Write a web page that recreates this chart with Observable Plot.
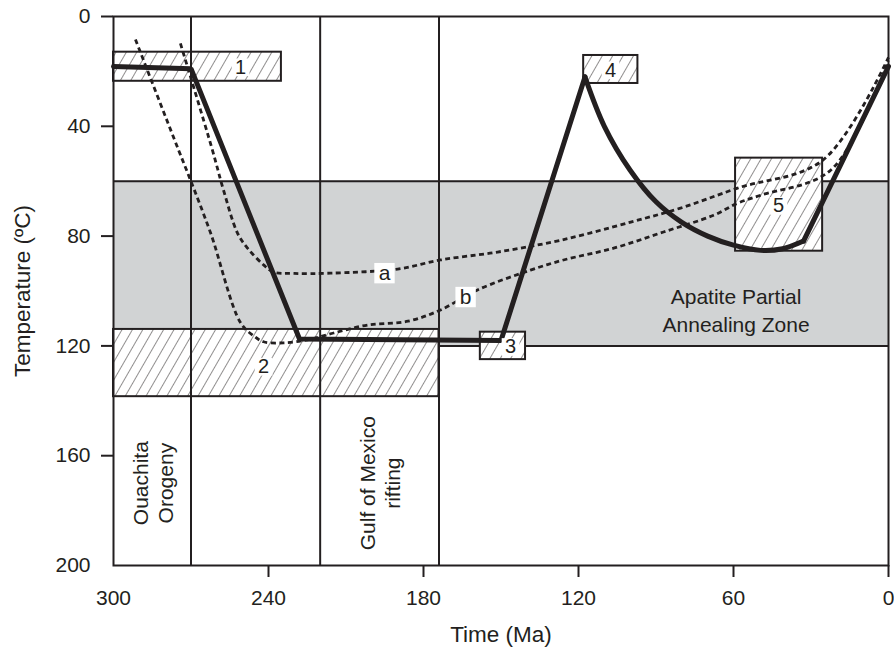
<!DOCTYPE html>
<html>
<head>
<meta charset="utf-8">
<script src="https://cdn.jsdelivr.net/npm/d3@7"></script>
<script src="https://cdn.jsdelivr.net/npm/@observablehq/plot@0.6"></script>
<style>
  body { margin: 0; background: #fff; }
  svg { display: block; }
</style>
</head>
<body>
<div id="chart"></div>
<script>
// ---------- data ----------
const xTicks = [300, 240, 180, 120, 60, 0];
const yTicks = [0, 40, 80, 120, 160, 200];

// Apatite partial annealing zone
const apazTop = 60, apazBottom = 120;
const apazText = "Apatite Partial\nAnnealing Zone";
const apazTextTime = 59, apazTextTemp = 106.5;

// constraint boxes
const boxNames = ["1", "2", "3", "4", "5"];
const boxStart = [300, 300, 158, 118, 59.2];
const boxEnd = [235, 174, 140.5, 97, 25.5];
const boxTempTop = [13, 114, 115, 14.2, 51.6];
const boxTempBottom = [23.6, 138.5, 125, 24.4, 85.5];
const boxLabelTime = [250.8, 241.9, 146.3, 107.6, 42.6];
const boxLabelTemp = [18.5, 127.6, 120.4, 19.6, 69];

// geologic events
const eventTimes = [270, 220, 174];
const eventLabels = ["Ouachita\nOrogeny", "Gulf of Mexico\nrifting"];
const eventLabelTime = [285, 197];
const eventLabelTemp = [170, 170];

// best-fit thermal path (solid)
const pathTime = [300, 270, 228, 150, 117.5];
const pathTemp = [18.2, 19, 117.5, 118, 22];
const coolTime = [117.5, 110, 100, 90, 80, 70, 60, 49.5, 41, 32.9];
const coolTemp = [22, 40, 56, 67.5, 75, 80, 83.3, 85.2, 84.6, 81.8];
const finalTime = [32.9, 0];
const finalTemp = [81.8, 18.2];

// alternative paths (dotted)
const aTime = [274.1, 261.7, 257.4, 252.0, 248.1, 241.9, 238.1, 230, 216.0, 190.0, 173.4, 151.3, 126.9, 99.8, 80.5, 58.4, 25.5, 0];
const aTemp = [9.8, 48.7, 63.3, 78.9, 84.4, 90.5, 93.1, 93.6, 93.5, 92.0, 88.7, 85.8, 81.5, 74.9, 69.8, 62.5, 52.4, 14.9];
const bTime = [291.5, 274.8, 270.2, 262.4, 250.8, 245.5, 241.9, 234.2, 224.9, 214.8, 201.7, 186, 173.4, 159.1, 138.6, 125.8, 106.4, 87.1, 67.7, 58.4, 49.5, 22.4, 0];
const bTemp = [8.4, 48.7, 59.6, 78.9, 111.6, 116.5, 118.5, 118.9, 117.8, 115.3, 112.4, 111, 106.9, 99.6, 92.4, 88.7, 84.4, 78.5, 72.4, 68.0, 65.1, 56.0, 16.0];
const pathLabels = ["a", "b"];
const pathLabelTime = [195.1, 163.7];
const pathLabelTemp = [93.5, 102.2];

// ---------- build tables ----------
const INK = "#231f20";
const GREY = "#d1d3d4";
const FONT = "'Liberation Sans', Arial, Helvetica, sans-serif";

const boxes = boxNames.map((n, i) => ({n, t0: boxStart[i], t1: boxEnd[i], y0: boxTempTop[i], y1: boxTempBottom[i], lt: boxLabelTime[i], ly: boxLabelTemp[i]}));
const events = eventLabels.map((s, i) => ({s, t: eventLabelTime[i], y: eventLabelTemp[i]}));
const toPts = (ts, ys) => ts.map((t, i) => ({t, y: ys[i]}));
const solidA = toPts(pathTime, pathTemp);
const solidB = toPts(coolTime, coolTemp);
const solidC = toPts(finalTime, finalTemp);
const lineA = toPts(aTime, aTemp);
const lineB = toPts(bTime, bTemp);
const pLabels = pathLabels.map((s, i) => ({s, t: pathLabelTime[i], y: pathLabelTemp[i]}));

const dotted = {x: "t", y: "y", stroke: INK, strokeWidth: 2.8, strokeDasharray: "5,3.5", strokeLinecap: "butt", curve: "catmull-rom"};

const chart = Plot.plot({
  width: 894,
  height: 656,
  marginLeft: 113,
  marginRight: 6,
  marginTop: 16,
  marginBottom: 91,
  style: {fontFamily: FONT, color: INK, background: "white"},
  x: {domain: [300, 0], label: null},
  y: {domain: [0, 200], reverse: true, label: null},
  marks: [
    // APAZ band
    Plot.rect([{t0: 300, t1: 0, y0: apazTop, y1: apazBottom}], {x1: "t0", x2: "t1", y1: "y0", y2: "y1", fill: GREY}),
    Plot.ruleY([apazTop, apazBottom], {stroke: INK, strokeWidth: 2}),
    // constraint boxes
    Plot.rect(boxes, {x1: "t0", x2: "t1", y1: "y0", y2: "y1", fill: "url(#hatch)", stroke: INK, strokeWidth: 2}),
    // event lines
    Plot.ruleX(eventTimes, {stroke: INK, strokeWidth: 2}),
    Plot.frame({stroke: INK, strokeWidth: 2}),
    // event labels
    Plot.text(events, {x: "t", y: "y", text: "s", rotate: -90, fontSize: 21, lineHeight: 1.2, fill: INK}),
    Plot.text([apazText], {x: () => apazTextTime, y: () => apazTextTemp, text: d => d, fontSize: 21, lineHeight: 1.33, fill: INK}),
    // dotted alternative paths
    Plot.line(lineA, dotted),
    Plot.line(lineB, dotted),
    // solid path
    Plot.line(solidA, {x: "t", y: "y", stroke: INK, strokeWidth: 5, strokeLinejoin: "miter"}),
    Plot.line(solidB, {x: "t", y: "y", stroke: INK, strokeWidth: 5, curve: "catmull-rom"}),
    Plot.line(solidC, {x: "t", y: "y", stroke: INK, strokeWidth: 5}),
    // labels
    Plot.dot(pLabels, {x: "t", y: "y", symbol: "square", r: 11.5, fill: "white", stroke: null}),
    Plot.text(pLabels, {x: "t", y: "y", text: "s", fontSize: 21, fill: INK}),
    Plot.dot(boxes, {x: "lt", y: "ly", symbol: "square", r: 10, fill: "white", stroke: null}),
    Plot.text(boxes, {x: "lt", y: "ly", text: "n", fontSize: 20, fill: INK}),
    // axes
    Plot.axisX({ticks: xTicks.filter(t => t !== 300), tickSize: 12, strokeWidth: 2, tickFormat: () => "", label: null}),
    Plot.axisX({ticks: xTicks, tickSize: 0, tickPadding: 25, fontSize: 21, label: null, tickFormat: d => String(d)}),
    Plot.axisY({ticks: yTicks.filter(t => t !== 200), tickSize: 12, strokeWidth: 2, tickFormat: () => "", label: null}),
    Plot.axisY({ticks: yTicks, tickSize: 0, tickPadding: 23, fontSize: 21, label: null, tickFormat: d => String(d)}),
    Plot.text(["Temperature (ºC)"], {frameAnchor: "left", dx: -91, rotate: -90, textAnchor: "middle", lineAnchor: "middle", text: d => d, fontSize: 22.5, fill: INK}),
    Plot.text(["Time (Ma)"], {frameAnchor: "bottom", dy: 69, textAnchor: "middle", lineAnchor: "middle", text: d => d, fontSize: 22.5, fill: INK})
  ]
});

chart.insertAdjacentHTML("afterbegin",
  `<defs><pattern id="hatch" patternUnits="userSpaceOnUse" width="9" height="9" patternTransform="rotate(30)">
     <rect width="9" height="9" fill="white"/>
     <line x1="0" y1="0" x2="0" y2="9" stroke="${INK}" stroke-width="1"/>
   </pattern></defs>`);

document.getElementById("chart").append(chart);
</script>
</body>
</html>
